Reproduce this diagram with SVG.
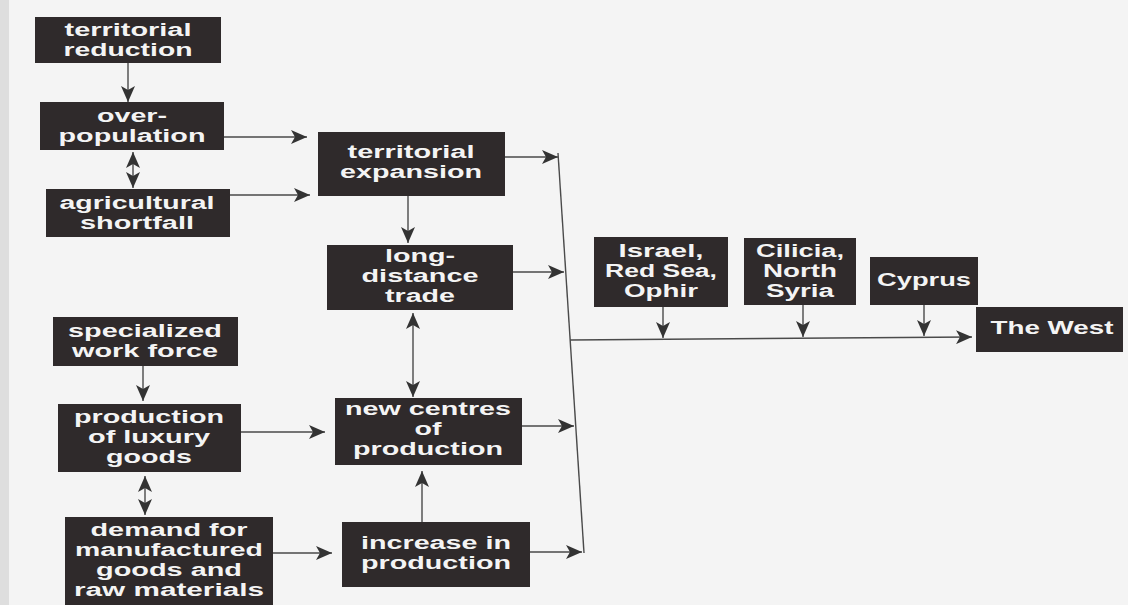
<svg xmlns="http://www.w3.org/2000/svg" width="1128" height="605" viewBox="0 0 1128 605">
<style>
.box{fill:#2f2a2b}
.t{font-family:"Liberation Sans",Arial,sans-serif;font-weight:bold;font-size:18px;fill:#f4f4f4;text-anchor:middle}
.c{fill:none;stroke:#4a4a4a;stroke-width:1.4}
</style>
<defs>
<marker id="ah" markerUnits="userSpaceOnUse" markerWidth="16" markerHeight="14" viewBox="0 0 16 14" refX="16" refY="7" orient="auto-start-reverse">
<path d="M0,0 L16,7 L0,14 L4,7 z" fill="#333"/>
</marker>
</defs>
<rect width="1128" height="605" fill="#f4f4f4"/>
<rect width="9" height="605" fill="#dedede"/>

<g id="connectors">
<line class="c" x1="128" y1="63" x2="128" y2="102" marker-end="url(#ah)"/>
<line class="c" x1="133" y1="152" x2="133" y2="188" marker-start="url(#ah)" marker-end="url(#ah)"/>
<line class="c" x1="223" y1="137" x2="307" y2="137" marker-end="url(#ah)"/>
<line class="c" x1="230" y1="195" x2="310" y2="195" marker-end="url(#ah)"/>
<line class="c" x1="143" y1="366" x2="143" y2="401" marker-end="url(#ah)"/>
<line class="c" x1="145" y1="476" x2="145" y2="515" marker-start="url(#ah)" marker-end="url(#ah)"/>
<line class="c" x1="240" y1="432" x2="325" y2="432" marker-end="url(#ah)"/>
<line class="c" x1="273" y1="553" x2="332" y2="553" marker-end="url(#ah)"/>
<line class="c" x1="408" y1="195" x2="408" y2="243" marker-end="url(#ah)"/>
<line class="c" x1="413" y1="313" x2="413" y2="397" marker-start="url(#ah)" marker-end="url(#ah)"/>
<line class="c" x1="422" y1="522" x2="422" y2="471" marker-end="url(#ah)"/>
<line class="c" x1="505" y1="157" x2="558" y2="157" marker-end="url(#ah)"/>
<line class="c" x1="513" y1="272" x2="564" y2="272" marker-end="url(#ah)"/>
<line class="c" x1="522" y1="426" x2="574" y2="426" marker-end="url(#ah)"/>
<line class="c" x1="530" y1="552" x2="582" y2="552" marker-end="url(#ah)"/>
<line class="c" x1="558" y1="153" x2="584" y2="553"/>
<line class="c" x1="570" y1="340" x2="972" y2="337" marker-end="url(#ah)"/>
<line class="c" x1="663" y1="307" x2="663" y2="338" marker-end="url(#ah)"/>
<line class="c" x1="803" y1="305" x2="803" y2="337" marker-end="url(#ah)"/>
<line class="c" x1="924" y1="305" x2="924" y2="336" marker-end="url(#ah)"/>
</g>

<g id="territorial-reduction">
<rect class="box" x="35" y="17" width="186" height="46"/>
<text class="t" x="128" y="35.5" textLength="127" lengthAdjust="spacingAndGlyphs">territorial</text>
<text class="t" x="128" y="55.5" textLength="129" lengthAdjust="spacingAndGlyphs">reduction</text>
</g>
<g id="over-population">
<rect class="box" x="40" y="102" width="184" height="48"/>
<text class="t" x="132" y="121.5" textLength="70" lengthAdjust="spacingAndGlyphs">over-</text>
<text class="t" x="132" y="141.5" textLength="147" lengthAdjust="spacingAndGlyphs">population</text>
</g>
<g id="agricultural-shortfall">
<rect class="box" x="46" y="189" width="184" height="48"/>
<text class="t" x="137" y="208.5" textLength="155" lengthAdjust="spacingAndGlyphs">agricultural</text>
<text class="t" x="137" y="228.5" textLength="114" lengthAdjust="spacingAndGlyphs">shortfall</text>
</g>
<g id="specialized-work-force">
<rect class="box" x="53" y="317" width="185" height="49"/>
<text class="t" x="145" y="336.5" textLength="154" lengthAdjust="spacingAndGlyphs">specialized</text>
<text class="t" x="145" y="356.5" textLength="146" lengthAdjust="spacingAndGlyphs">work force</text>
</g>
<g id="production-of-luxury-goods">
<rect class="box" x="58" y="404" width="183" height="68"/>
<text class="t" x="149" y="423" textLength="150" lengthAdjust="spacingAndGlyphs">production</text>
<text class="t" x="149" y="443" textLength="122" lengthAdjust="spacingAndGlyphs">of luxury</text>
<text class="t" x="149" y="463" textLength="86" lengthAdjust="spacingAndGlyphs">goods</text>
</g>
<g id="demand">
<rect class="box" x="65" y="517" width="208" height="95"/>
<text class="t" x="169" y="536" textLength="157" lengthAdjust="spacingAndGlyphs">demand for</text>
<text class="t" x="169" y="556" textLength="188" lengthAdjust="spacingAndGlyphs">manufactured</text>
<text class="t" x="169" y="576" textLength="146" lengthAdjust="spacingAndGlyphs">goods and</text>
<text class="t" x="169" y="596" textLength="190" lengthAdjust="spacingAndGlyphs">raw materials</text>
</g>

<g id="territorial-expansion">
<rect class="box" x="318" y="132" width="187" height="64"/>
<text class="t" x="411" y="157.5" textLength="127" lengthAdjust="spacingAndGlyphs">territorial</text>
<text class="t" x="411" y="177.5" textLength="142" lengthAdjust="spacingAndGlyphs">expansion</text>
</g>
<g id="long-distance-trade">
<rect class="box" x="327" y="245" width="186" height="65"/>
<text class="t" x="420" y="262" textLength="70" lengthAdjust="spacingAndGlyphs">long-</text>
<text class="t" x="420" y="282" textLength="117" lengthAdjust="spacingAndGlyphs">distance</text>
<text class="t" x="420" y="302" textLength="70" lengthAdjust="spacingAndGlyphs">trade</text>
</g>
<g id="new-centres-of-production">
<rect class="box" x="335" y="398" width="187" height="67"/>
<text class="t" x="428" y="415" textLength="166" lengthAdjust="spacingAndGlyphs">new centres</text>
<text class="t" x="428" y="435" textLength="27" lengthAdjust="spacingAndGlyphs">of</text>
<text class="t" x="428" y="455" textLength="150" lengthAdjust="spacingAndGlyphs">production</text>
</g>
<g id="increase-in-production">
<rect class="box" x="342" y="522" width="188" height="65"/>
<text class="t" x="436" y="548.5" textLength="150" lengthAdjust="spacingAndGlyphs">increase in</text>
<text class="t" x="436" y="568.5" textLength="150" lengthAdjust="spacingAndGlyphs">production</text>
</g>

<g id="israel">
<rect class="box" x="594" y="237" width="134" height="70"/>
<text class="t" x="661" y="256.5" textLength="85" lengthAdjust="spacingAndGlyphs">Israel,</text>
<text class="t" x="661" y="276.5" textLength="112" lengthAdjust="spacingAndGlyphs">Red Sea,</text>
<text class="t" x="661" y="296.5" textLength="74" lengthAdjust="spacingAndGlyphs">Ophir</text>
</g>
<g id="cilicia">
<rect class="box" x="744" y="238" width="112" height="67"/>
<text class="t" x="800" y="257" textLength="88" lengthAdjust="spacingAndGlyphs">Cilicia,</text>
<text class="t" x="800" y="277" textLength="74" lengthAdjust="spacingAndGlyphs">North</text>
<text class="t" x="800" y="297" textLength="68" lengthAdjust="spacingAndGlyphs">Syria</text>
</g>
<g id="cyprus">
<rect class="box" x="870" y="257" width="108" height="48"/>
<text class="t" x="924" y="286" textLength="94" lengthAdjust="spacingAndGlyphs">Cyprus</text>
</g>
<g id="the-west">
<rect class="box" x="976" y="307" width="147" height="45"/>
<text class="t" x="1052" y="334" textLength="123" lengthAdjust="spacingAndGlyphs">The West</text>
</g>
</svg>
